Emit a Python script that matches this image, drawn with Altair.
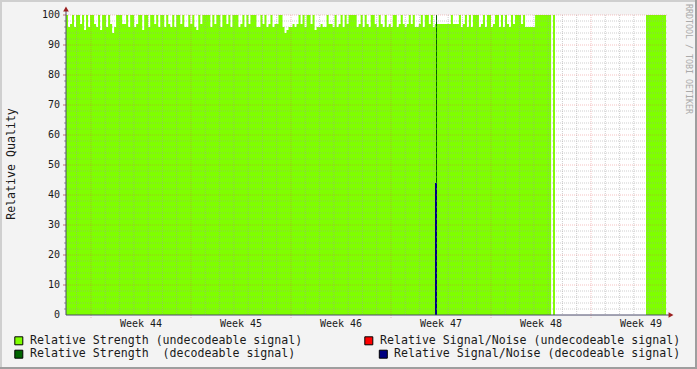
import altair as alt
import pandas as pd

# ---------------- data ----------------
week_labels = ["Week 44", "Week 45", "Week 46", "Week 47", "Week 48", "Week 49"]
week_label_hours = [126, 294, 462, 630, 798, 966]
y_label_values = list(range(0, 101, 10))

# Relative Strength (undecodeable signal), main run of samples (hours 0 .. 815)
strength_undec = [
    100, 96, 97, 100, 96, 100, 100, 97, 100, 95, 100, 96, 100, 100, 97, 96, 100, 95, 100, 100,
    96, 100, 97, 94, 96, 100, 100, 100, 97, 97, 100, 96, 100, 100, 96, 97, 100, 100, 95, 100,
    100, 96, 100, 100, 97, 100, 96, 100, 100,
    96, 100, 97, 96, 100, 96, 100, 100, 97, 100, 96, 96, 100, 97, 100, 96, 95, 100, 97, 100,
    100, 100, 100, 96, 100, 97, 100, 100, 96, 100, 100, 97, 100, 96, 100, 100, 100, 96, 97, 100,
    96, 100, 97, 100, 100, 100, 96, 96, 100,
    97, 100, 96, 97, 100, 96, 97, 97, 100, 100, 96, 94, 95, 96, 96, 97, 96, 97, 100, 97,
    100, 96, 100, 100, 97, 100, 95, 96, 96, 97, 96, 96, 100, 97, 97, 96, 100, 96, 97, 100,
    96, 100, 97, 100, 100, 100, 100, 96, 97,
    100, 96, 100, 97, 96, 100, 100, 97, 96, 100, 97, 96, 100, 96, 97, 96, 100, 100, 96, 97,
    100, 97, 96, 97, 100, 97, 100, 96, 96, 97, 100, 96, 100, 100, 97, 100, 96, 97, 97, 97,
    97, 97, 97, 97, 97, 100, 97, 97, 97,
    100, 96, 97, 100, 96, 100, 96, 100, 100, 100, 96, 97, 100, 96, 100, 100, 96, 97, 100, 100,
    96, 100, 96, 100, 97, 96, 100, 97, 100, 100, 100, 97, 100, 96, 96, 96, 96, 96, 100, 100,
    100, 100, 100, 100, 100, 100,
]
main_start_h = 0.0
main_end_h = 815.0

# later short runs of undecodeable strength
extra_start_h = [818.2, 974.4]
extra_end_h = [821.5, 1008.0]
extra_value = [100, 100]

# decodeable signal (single sample)
dec_strength_start, dec_strength_end, dec_strength_value = 621.6, 623.3, 100
dec_sn_start, dec_sn_end, dec_sn_value = 619.9, 623.3, 44

legend_labels = [
    "Relative Strength (undecodeable signal)",
    "Relative Strength\u00a0 (decodeable signal)",
    "Relative Signal/Noise (undecodeable signal)",
    "Relative Signal/Noise (decodeable signal)",
]
legend_colors = ["#7FFF00", "#006400", "#FF0000", "#000080"]

# ---------------- layout / style ----------------
FONT = "DejaVu Sans Mono"
TEXT_COLOR = "#1a1a1a"
W, H = 600, 300
X_DOMAIN = [0, 1008]
legend_pos = [(-47.2, 325.8), (-47.2, 339.2), (302.8, 325.8), (317.3, 339.2)]
legend_text_x = [-36, -36, 314, 328]

# build area table
n = len(strength_undec)
step = (main_end_h - main_start_h) / n
rows = []
for i, v in enumerate(strength_undec):
    rows.append({"seg": 0, "t": main_start_h + i * step, "v": v})
rows.append({"seg": 0, "t": main_end_h, "v": strength_undec[-1]})
for k, (a, b, v) in enumerate(zip(extra_start_h, extra_end_h, extra_value)):
    rows.append({"seg": k + 1, "t": a, "v": v})
    rows.append({"seg": k + 1, "t": b, "v": v})
area_df = pd.DataFrame(rows)

xscale = alt.Scale(domain=X_DOMAIN, nice=False, zero=False)
yscale = alt.Scale(domain=[0, 100], nice=False)

area = alt.Chart(area_df).mark_area(
    color="#7FFF00", interpolate="step-after", opacity=1, strokeWidth=0
).encode(
    x=alt.X("t:Q", scale=xscale, axis=None),
    y=alt.Y("v:Q", scale=yscale, stack=None, axis=None),
    detail="seg:N",
)

dec_df = pd.DataFrame({"t0": [dec_strength_start], "t1": [dec_strength_end],
                       "v": [dec_strength_value], "b": [0]})
sn_df = pd.DataFrame({"t0": [dec_sn_start], "t1": [dec_sn_end],
                      "v": [dec_sn_value], "b": [0]})
dec_rect = alt.Chart(dec_df).mark_rect(color="#006400").encode(
    x=alt.X("t0:Q", axis=None), x2="t1:Q", y=alt.Y("v:Q", axis=None), y2="b:Q")
sn_rect = alt.Chart(sn_df).mark_rect(color="#000080").encode(
    x=alt.X("t0:Q", axis=None), x2="t1:Q", y=alt.Y("v:Q", axis=None), y2="b:Q")

# grid
major_v = [42 + 168 * k for k in range(6)]
minor_v = [18 + 24 * k for k in range(42) if (18 + 24 * k) not in major_v]
minor_h = [v for v in range(2, 100, 2) if v % 10 != 0]
major_h = [v for v in range(10, 101, 10)]

MINOR = dict(color="#A0A0A0", strokeDash=[1, 1], strokeWidth=1, opacity=0.5)
MAJOR = dict(color="#E05050", strokeDash=[1, 1], strokeWidth=1, opacity=0.35)
grid_minor_v = alt.Chart(pd.DataFrame({"t": minor_v})).mark_rule(**MINOR).encode(
    x=alt.X("t:Q", axis=None), y=alt.value(0), y2=alt.value(H))
grid_major_v = alt.Chart(pd.DataFrame({"t": major_v})).mark_rule(**MAJOR).encode(
    x=alt.X("t:Q", axis=None), y=alt.value(0), y2=alt.value(H + 3))
grid_minor_h = alt.Chart(pd.DataFrame({"v": minor_h})).mark_rule(**MINOR).encode(
    y=alt.Y("v:Q", axis=None), x=alt.value(0), x2=alt.value(W + 2))
grid_major_h = alt.Chart(pd.DataFrame({"v": major_h})).mark_rule(**MAJOR).encode(
    y=alt.Y("v:Q", axis=None), x=alt.value(0), x2=alt.value(W + 2))
minor_ticks_y = alt.Chart(pd.DataFrame({"v": minor_h})).mark_rule(
    color="#999999", strokeWidth=1).encode(
    y=alt.Y("v:Q", axis=None), x=alt.value(-2), x2=alt.value(0))
major_ticks_y = alt.Chart(pd.DataFrame({"v": major_h})).mark_rule(
    color="#C07070", strokeWidth=1).encode(
    y=alt.Y("v:Q", axis=None), x=alt.value(-3), x2=alt.value(0))

# axis labels
y_labels = alt.Chart(pd.DataFrame({"v": y_label_values})).mark_text(
    font=FONT, fontSize=10, align="right", baseline="middle", color=TEXT_COLOR).encode(
    y=alt.Y("v:Q", axis=None), x=alt.value(-6), text="v:Q")
x_labels = alt.Chart(pd.DataFrame({"t": week_label_hours, "lab": week_labels})).mark_text(
    font=FONT, fontSize=10, align="center", baseline="middle", color=TEXT_COLOR).encode(
    x=alt.X("t:Q", axis=None), y=alt.value(H + 9), text="lab:N")

one = alt.Data(values=[{"a": 0}])
AXIS_COLOR = "#4a4a6a"
yaxis_line = alt.Chart(one).mark_rule(color=AXIS_COLOR, strokeWidth=1).encode(
    x=alt.value(0), y=alt.value(H), y2=alt.value(-4))
xaxis_line = alt.Chart(one).mark_rule(color=AXIS_COLOR, strokeWidth=1).encode(
    y=alt.value(H), x=alt.value(0), x2=alt.value(W + 4))
arrow_up = alt.Chart(one).mark_point(shape="triangle-up", filled=True, color="#9B2020",
                                     size=32, opacity=1).encode(
    x=alt.value(0), y=alt.value(-6))
arrow_right = alt.Chart(one).mark_point(shape="triangle-right", filled=True, color="#9B2020",
                                        size=32, opacity=1).encode(
    x=alt.value(W + 5), y=alt.value(H))

ytitle = alt.Chart(one).mark_text(font=FONT, fontSize=11.6, angle=270, align="center",
                                  baseline="middle", color=TEXT_COLOR).encode(
    x=alt.value(-54), y=alt.value(149), text=alt.value("Relative Quality"))
watermark = alt.Chart(one).mark_text(font=FONT, fontSize=8.3, angle=90, align="left",
                                     baseline="middle", color="#AAAAAA").encode(
    x=alt.value(622), y=alt.value(-11), text=alt.value("RRDTOOL / TOBI OETIKER"))

# border
border = [
    alt.Chart(one).mark_rule(color="#CFCFCF", strokeWidth=2).encode(
        x=alt.value(-66), x2=alt.value(631), y=alt.value(-14)),
    alt.Chart(one).mark_rule(color="#CFCFCF", strokeWidth=2).encode(
        y=alt.value(-15), y2=alt.value(354), x=alt.value(-65)),
    alt.Chart(one).mark_rule(color="#9E9E9E", strokeWidth=2).encode(
        x=alt.value(-66), x2=alt.value(631), y=alt.value(353)),
    alt.Chart(one).mark_rule(color="#9E9E9E", strokeWidth=2).encode(
        y=alt.value(-15), y2=alt.value(354), x=alt.value(630)),
]

legend_layers = []
for lab, col, (sx, sy), tx in zip(legend_labels, legend_colors, legend_pos, legend_text_x):
    legend_layers.append(alt.Chart(one).mark_square(
        size=64, filled=True, color=col, stroke="black", strokeWidth=1, opacity=1).encode(
        x=alt.value(sx), y=alt.value(sy)))
    legend_layers.append(alt.Chart(one).mark_text(
        font=FONT, fontSize=11.6, align="left", baseline="middle", color=TEXT_COLOR).encode(
        x=alt.value(tx), y=alt.value(sy), text=alt.value(lab)))

chart = alt.layer(
    area, dec_rect, sn_rect,
    grid_minor_v, grid_minor_h, grid_major_v, grid_major_h, minor_ticks_y, major_ticks_y,
    yaxis_line, xaxis_line, arrow_up, arrow_right,
    y_labels, x_labels,
    ytitle, watermark, *border, *legend_layers,
).properties(
    width=W, height=H,
    background="#F3F3F3",
    padding={"left": 66, "top": 15, "right": 31, "bottom": 54},
    autosize=alt.AutoSizeParams(type="none"),
).configure_view(fill="white", stroke=None)

chart.save("out.html", embed_options={"renderer": "svg", "actions": False})
